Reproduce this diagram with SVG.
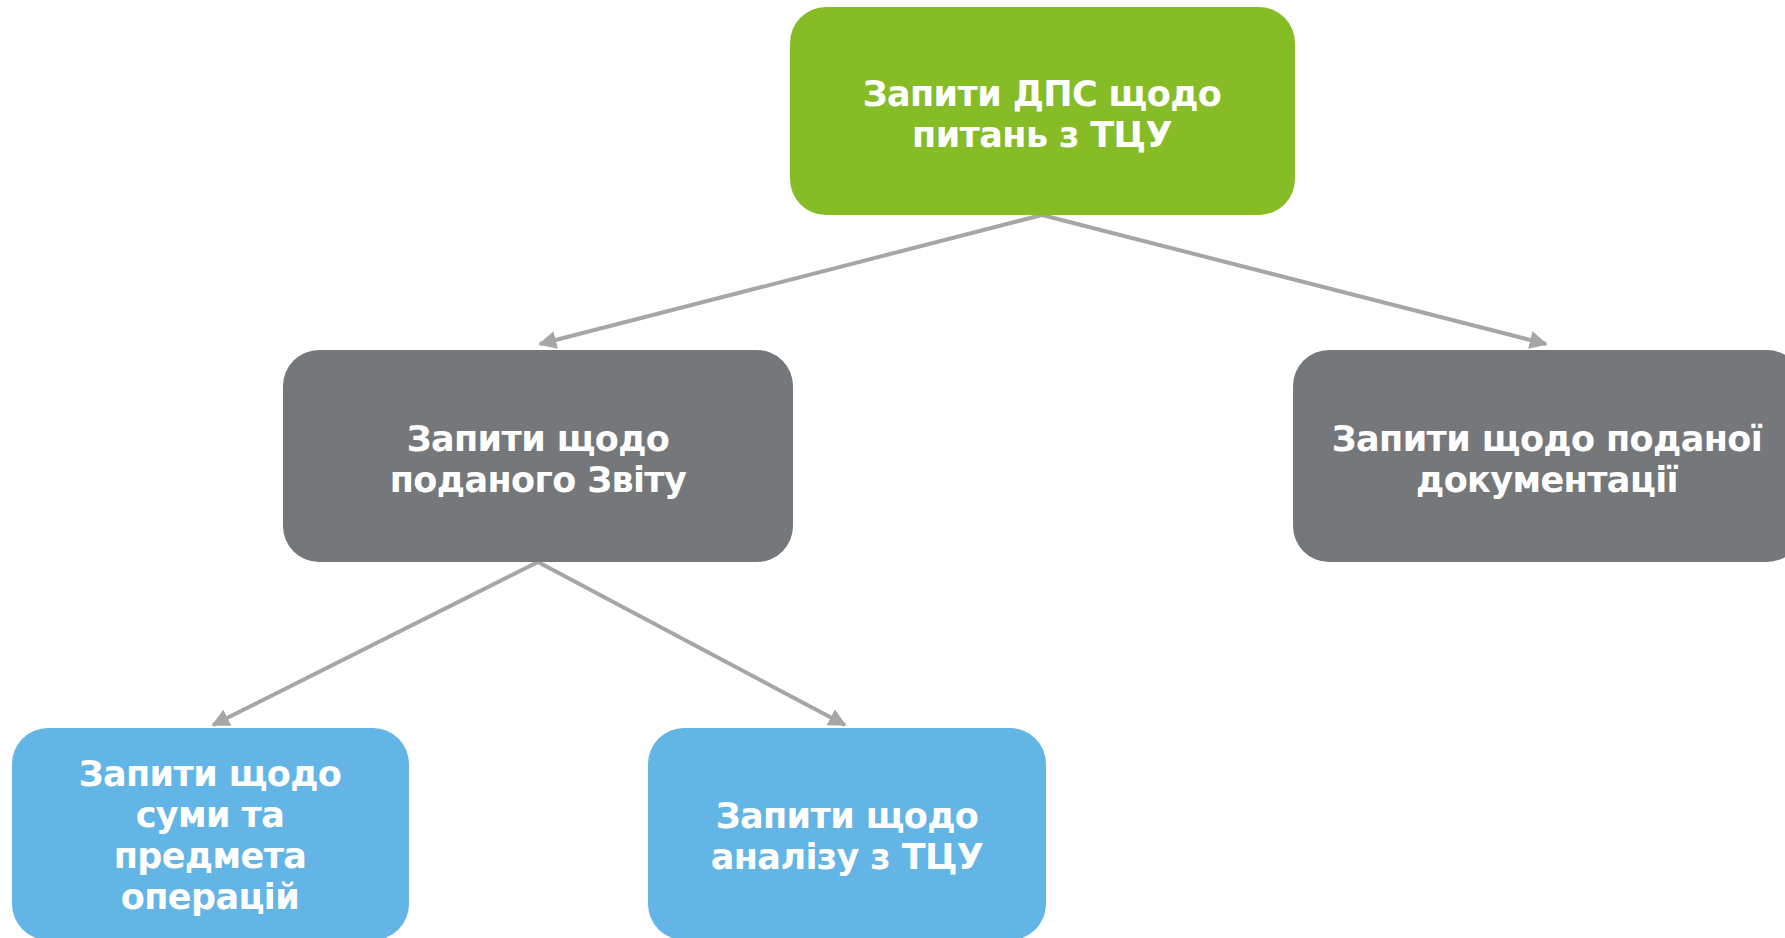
<svg xmlns="http://www.w3.org/2000/svg" width="1785" height="938" viewBox="0 0 1785 938">
  <style>
    .box-green { fill: #86BC25; }
    .box-gray { fill: #75787B; }
    .box-blue { fill: #62B5E5; }
    .label { font-family: "DejaVu Sans", Verdana, sans-serif; font-weight: bold; font-size: 35px; letter-spacing: -0.6px; fill: #FFFFFF; text-anchor: middle; }
    .link { stroke: #A6A6A6; stroke-width: 4; fill: none; }
  </style>
  <defs>
    <marker id="arrow" viewBox="0 0 10 10" refX="9" refY="5" markerWidth="4.5" markerHeight="4.5" markerUnits="strokeWidth" orient="auto">
      <path d="M0,0 L10,5 L0,10 z" fill="#A6A6A6"/>
    </marker>
  </defs>
  <rect width="1785" height="938" fill="#FFFFFF"/>

  <!-- connectors -->
  <g id="connectors">
    <line class="link" x1="1042" y1="215" x2="540" y2="344" marker-end="url(#arrow)"/>
    <line class="link" x1="1042" y1="215" x2="1546" y2="344" marker-end="url(#arrow)"/>
    <line class="link" x1="538" y1="562" x2="213" y2="725" marker-end="url(#arrow)"/>
    <line class="link" x1="538" y1="562" x2="845" y2="725" marker-end="url(#arrow)"/>
  </g>

  <!-- root -->
  <g id="node-root">
    <rect class="box-green" x="790" y="7" width="505" height="208" rx="36" ry="36"/>
    <text class="label" x="1042" y="106">Запити ДПС щодо</text>
    <text class="label" x="1042" y="147">питань з ТЦУ</text>
  </g>

  <!-- second level -->
  <g id="node-report">
    <rect class="box-gray" x="283" y="350" width="510" height="212" rx="36" ry="36"/>
    <text class="label" x="538" y="451">Запити щодо</text>
    <text class="label" x="538" y="492">поданого Звіту</text>
  </g>
  <g id="node-docs">
    <rect class="box-gray" x="1293" y="350" width="510" height="212" rx="36" ry="36"/>
    <text class="label" x="1547" y="451">Запити щодо поданої</text>
    <text class="label" x="1547" y="492">документації</text>
  </g>

  <!-- third level -->
  <g id="node-amount">
    <rect class="box-blue" x="12" y="728" width="397" height="212" rx="36" ry="36"/>
    <text class="label" x="210" y="786">Запити щодо</text>
    <text class="label" x="210" y="827">суми та</text>
    <text class="label" x="210" y="868">предмета</text>
    <text class="label" x="210" y="909">операцій</text>
  </g>
  <g id="node-analysis">
    <rect class="box-blue" x="648" y="728" width="398" height="212" rx="36" ry="36"/>
    <text class="label" x="847" y="828">Запити щодо</text>
    <text class="label" x="847" y="869">аналізу з ТЦУ</text>
  </g>
</svg>
